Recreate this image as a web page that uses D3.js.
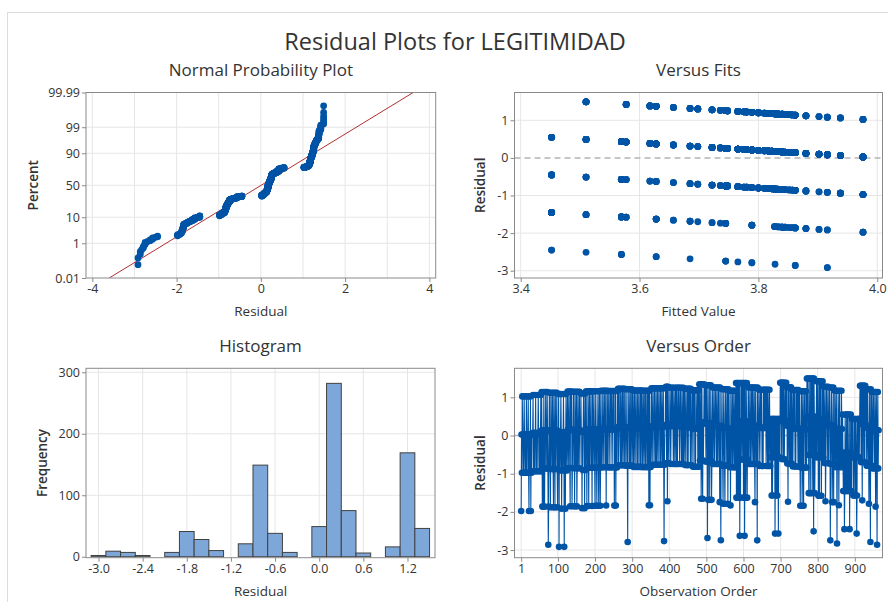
<!DOCTYPE html>
<html>
<head>
<meta charset="utf-8">
<script src="https://cdn.jsdelivr.net/npm/d3@7"></script>
<style>
  body { margin: 0; background: #fff; }
  svg text { font-family: "Open Sans", "Noto Sans", sans-serif; fill: #333; }
</style>
</head>
<body>
<svg id="chart" width="888" height="602"></svg>
<script>
const BLUE = "#0054a6";
const GRID = "#e6e6e6";
const FRAME = "#8a8a8a";

// fitted value of each run of observations (in observation order)
const blockFits = [
  3.976, 3.938, 3.862, 3.88, 3.916, 3.852, 3.857, 3.902, 3.845, 3.84, 3.832,
  3.835, 3.78, 3.789, 3.8227, 3.827, 3.7655, 3.722, 3.748, 3.7756, 3.817,
  3.657, 3.685, 3.7448, 3.789, 3.83, 3.628, 3.745, 3.80, 3.5695, 3.6175,
  3.736, 3.81, 3.84, 3.51, 3.5775, 3.722, 3.745, 3.828, 3.452, 3.5695,
  3.698, 3.789, 3.862
];

// observed response (1-5) of every observation, one string per run
const blockResponses = [
  "24354 43454 34435 43445 32443 52434",
  "44534 43445 34434 45434 43453",
  "54243 25424 35443 54312",
  "45342 54435 43254 42534 45324",
  "45144 34542 44345 41432 45434",
  "54345 43254 45234",
  "45342 54345 23453 44534",
  "45442 43454 42534",
  "54243 54245 34453 42543",
  "45432 45432 44532 45423",
  "54344 53445 43452 43543",
  "45443 54454 34544 52435 24435",
  "45345 44354 34543 54435",
  "54344 53144 54345 34453",
  "45434 54345 44354 34544 35435",
  "54345 43454 35443 54352 45243",
  "45434 54435 44354 34543 45443 54345 43453 13445",
  "54352 45434",
  "45434 54454 34543 45435 43454 54345 44354 34534",
  "54345 44354 35445 43534",
  "45435 44534 35444 53543",
  "54345 24532 43454",
  "45435 44152 43524 35423",
  "45344 53445 43453 44534 25314",
  "45432 45432 45443 54253",
  "54342 54435 43454 3453",
  "52452 45245 14253 45435 24514 52345 243",
  "45344 53445 34543 45324 54341 534",
  "45434 54453 44354 45445 34543 54345 43",
  "43424 23443 44134 24324 41344 3",
  "54543 54535 43454 45",
  "45342 54435 43543",
  "54345 44534 35445 43543",
  "54243 54245 32454 43543",
  "54534 25442 54352 45415 42343",
  "45354 42542 53452 43543",
  "54345 23454 43534",
  "45413 45423 45243",
  "54345 41435 42453 44354 3",
  "43223 12432 24324 23241 32432",
  "43442 32443 24312 44344 34",
  "54535 42545 35435 4",
  "45345 43425 43154 3",
  "54345 44354 24531 4534"
];

const npPercentTicks = [0.01, 1, 10, 50, 90, 99, 99.99];
const npResidTicks = [-4, -2, 0, 2, 4];
const npGridX = [-4, -3, -2, -1, 0, 1, 2, 3, 4];
const fitTicks = [3.4, 3.6, 3.8, 4.0];
const residTicks = [-3, -2, -1, 0, 1];
const histTicks = [-3.0, -2.4, -1.8, -1.2, -0.6, 0.0, 0.6, 1.2];
const freqTicks = [0, 100, 200, 300];
const orderTicks = [1, 100, 200, 300, 400, 500, 600, 700, 800, 900];

// residual = response - fit
let obs = [];
blockResponses.forEach((s, b) => {
  s.replace(/\s/g, "").split("").forEach(ch => {
    obs.push({ order: obs.length + 1, fit: blockFits[b], resid: +ch - blockFits[b] });
  });
});

// inverse normal cdf (Acklam)
function qnorm(p) {
  const a = [-39.69683028665376, 220.9460984245205, -275.9285104469687, 138.3577518672690, -30.66479806614716, 2.506628277459239];
  const b = [-54.47609879822406, 161.5858368580409, -155.6989798598866, 66.80131188771972, -13.28068155288572];
  const c = [-0.007784894002430293, -0.3223964580411365, -2.400758277161838, -2.549732539343734, 4.374664141464968, 2.938163982698783];
  const d = [0.007784695709041462, 0.3224671290700398, 2.445134137142996, 3.754408661907416];
  if (p < 0.02425) {
    let q = Math.sqrt(-2 * Math.log(p));
    return (((((c[0]*q+c[1])*q+c[2])*q+c[3])*q+c[4])*q+c[5]) / ((((d[0]*q+d[1])*q+d[2])*q+d[3])*q+1);
  }
  if (p > 1 - 0.02425) return -qnorm(1 - p);
  let q = p - 0.5, r = q * q;
  return (((((a[0]*r+a[1])*r+a[2])*r+a[3])*r+a[4])*r+a[5])*q / (((((b[0]*r+b[1])*r+b[2])*r+b[3])*r+b[4])*r+1);
}

const fmt = d3.formatLocale({ decimal: ".", thousands: ",", grouping: [3], currency: ["", ""], minus: "-" }).format;

let svg = d3.select("#chart");

svg.append("rect")
  .attr("x", 7.5).attr("y", 12.5)
  .attr("width", 900).attr("height", 600)
  .attr("fill", "none").attr("stroke", "#dcdcdc");

svg.append("text")
  .attr("x", 455).attr("y", 50)
  .attr("text-anchor", "middle")
  .style("font-size", "23.5px")
  .text("Residual Plots for LEGITIMIDAD");

let clipId = 0;

// grid, axes, frame and titles of one panel; returns the layer for the marks
function panel(box, x, y, o) {
  let gGrid = svg.append("g");
  let gData = svg.append("g");
  let gAxis = svg.append("g");

  gGrid.selectAll("line.gx").data(o.gridX).enter().append("line")
    .attr("x1", d => x(d)).attr("x2", d => x(d))
    .attr("y1", box.y0).attr("y2", box.y1)
    .attr("stroke", GRID);
  gGrid.selectAll("line.gy").data(o.gridY).enter().append("line")
    .attr("y1", d => y(d)).attr("y2", d => y(d))
    .attr("x1", box.x0).attr("x2", box.x1)
    .attr("stroke", GRID);

  clipId++;
  svg.append("clipPath").attr("id", "clip" + clipId)
    .append("rect")
    .attr("x", box.x0).attr("y", box.y0)
    .attr("width", box.x1 - box.x0).attr("height", box.y1 - box.y0);
  gData.attr("clip-path", "url(#clip" + clipId + ")");

  let xa = gAxis.append("g")
    .attr("transform", "translate(0," + box.y1 + ")")
    .call(d3.axisBottom(x).tickValues(o.xTicks).tickFormat(o.xFormat).tickSize(4).tickPadding(2));
  let ya = gAxis.append("g")
    .attr("transform", "translate(" + box.x0 + ",0)")
    .call(d3.axisLeft(y).tickValues(o.yTicks).tickFormat(o.yFormat).tickSize(4).tickPadding(2));
  [xa, ya].forEach(a => {
    a.select(".domain").remove();
    a.selectAll("line").attr("stroke", FRAME);
    a.selectAll("text").style("font-size", "12.5px").attr("fill", "#333");
  });

  gAxis.append("rect")
    .attr("x", box.x0).attr("y", box.y0)
    .attr("width", box.x1 - box.x0).attr("height", box.y1 - box.y0)
    .attr("fill", "none").attr("stroke", FRAME);

  let cx = (box.x0 + box.x1) / 2;
  gAxis.append("text")
    .attr("x", cx).attr("y", box.y0 - 16.5)
    .attr("text-anchor", "middle")
    .style("font-size", "17px")
    .text(o.title);
  gAxis.append("text")
    .attr("x", cx).attr("y", box.y1 + 38)
    .attr("text-anchor", "middle")
    .style("font-size", "13.5px")
    .text(o.xLabel);
  gAxis.append("text")
    .attr("transform", "translate(" + o.yLabelX + "," + (box.y0 + box.y1) / 2 + ") rotate(-90)")
    .attr("text-anchor", "middle")
    .style("font-size", "13.5px")
    .style("font-weight", "600")
    .text(o.yLabel);

  return gData;
}

// ---------- Normal Probability Plot ----------
let npBox = { x0: 86, x1: 435.7, y0: 92.5, y1: 278 };
let zMax = qnorm(0.9999);
let npX = d3.scaleLinear().domain([-4.15, 4.15]).range([npBox.x0, npBox.x1]);
let npY = d3.scaleLinear().domain([-zMax, zMax]).range([npBox.y1, npBox.y0]);
let npZTicks = npPercentTicks.map(p => qnorm(p / 100));

let npG = panel(npBox, npX, npY, {
  gridX: npGridX, gridY: npZTicks.slice(1, -1),
  xTicks: npResidTicks, xFormat: d => fmt("d")(d),
  yTicks: npZTicks, yFormat: (d, i) => String(npPercentTicks[i]),
  title: "Normal Probability Plot", xLabel: "Residual", yLabel: "Percent", yLabelX: 38
});

let sorted = obs.map(d => d.resid).sort(d3.ascending);
let n = sorted.length;
let npPoints = sorted.map((r, i) => ({ r: r, z: qnorm((i + 1 - 0.3) / (n + 0.4)) }));
let mu = d3.mean(sorted);
let sd = d3.deviation(sorted);

npG.append("line")
  .attr("x1", npX(mu - sd * zMax)).attr("y1", npY(-zMax))
  .attr("x2", npX(mu + sd * zMax)).attr("y2", npY(zMax))
  .attr("stroke", "#b03030").attr("stroke-width", 1);

npG.selectAll("circle").data(npPoints).enter().append("circle")
  .attr("cx", d => npX(d.r)).attr("cy", d => npY(d.z))
  .attr("r", 3.4).attr("fill", BLUE);

// ---------- Versus Fits ----------
let vfBox = { x0: 514.5, x1: 882.5, y0: 92.5, y1: 278 };
let vfX = d3.scaleLinear().domain([3.3896, 4.0088]).range([vfBox.x0, vfBox.x1]);
let vfY = d3.scaleLinear().domain([-3.194, 1.739]).range([vfBox.y1, vfBox.y0]);

let vfG = panel(vfBox, vfX, vfY, {
  gridX: fitTicks, gridY: residTicks.filter(d => d !== 0),
  xTicks: fitTicks, xFormat: fmt(".1f"),
  yTicks: residTicks, yFormat: fmt("d"),
  title: "Versus Fits", xLabel: "Fitted Value", yLabel: "Residual", yLabelX: 484.5
});

vfG.append("line")
  .attr("x1", vfBox.x0).attr("x2", vfBox.x1)
  .attr("y1", vfY(0)).attr("y2", vfY(0))
  .attr("stroke", "#b4b4b4").attr("stroke-width", 1.5).attr("stroke-dasharray", "6,4");

vfG.selectAll("circle").data(obs).enter().append("circle")
  .attr("cx", d => vfX(d.fit)).attr("cy", d => vfY(d.resid))
  .attr("r", 3.4).attr("fill", BLUE);

// ---------- Histogram ----------
let hBox = { x0: 86, x1: 435, y0: 368.3, y1: 557.7 };
let hX = d3.scaleLinear().domain([-3.17, 1.574]).range([hBox.x0, hBox.x1]);
let hY = d3.scaleLinear().domain([-1.6, 306.5]).range([hBox.y1, hBox.y0]);

let hG = panel(hBox, hX, hY, {
  gridX: histTicks, gridY: freqTicks.slice(1),
  xTicks: histTicks, xFormat: fmt(".1f"),
  yTicks: freqTicks, yFormat: fmt("d"),
  title: "Histogram", xLabel: "Residual", yLabel: "Frequency", yLabelX: 47
});

let edges = d3.range(1, 23).map(i => (-31 + 2 * i) / 10);
let bins = d3.bin().domain([-3.1, 1.5]).thresholds(edges)(obs.map(d => d.resid));

hG.selectAll("rect").data(bins.filter(b => b.length > 0)).enter().append("rect")
  .attr("x", d => hX(d.x0)).attr("width", d => hX(d.x1) - hX(d.x0))
  .attr("y", d => hY(d.length)).attr("height", d => hY(0) - hY(d.length))
  .attr("fill", "#7da7d9").attr("stroke", "#404040").attr("stroke-width", 1);

// ---------- Versus Order ----------
let voBox = { x0: 514.5, x1: 882.5, y0: 368.3, y1: 557.7 };
let voX = d3.scaleLinear().domain([-17, 974.6]).range([voBox.x0, voBox.x1]);
let voY = d3.scaleLinear().domain([-3.2, 1.76]).range([voBox.y1, voBox.y0]);

let voG = panel(voBox, voX, voY, {
  gridX: orderTicks, gridY: residTicks.filter(d => d !== 0),
  xTicks: orderTicks, xFormat: fmt("d"),
  yTicks: residTicks, yFormat: fmt("d"),
  title: "Versus Order", xLabel: "Observation Order", yLabel: "Residual", yLabelX: 484.5
});

voG.append("line")
  .attr("x1", voBox.x0).attr("x2", voBox.x1)
  .attr("y1", voY(0)).attr("y2", voY(0))
  .attr("stroke", "#b4b4b4").attr("stroke-width", 1.5).attr("stroke-dasharray", "6,4");

voG.append("path")
  .datum(obs)
  .attr("d", d3.line().x(d => voX(d.order)).y(d => voY(d.resid)))
  .attr("fill", "none").attr("stroke", BLUE).attr("stroke-width", 1.1);

voG.selectAll("circle").data(obs).enter().append("circle")
  .attr("cx", d => voX(d.order)).attr("cy", d => voY(d.resid))
  .attr("r", 3.3).attr("fill", BLUE);
</script>
</body>
</html>
